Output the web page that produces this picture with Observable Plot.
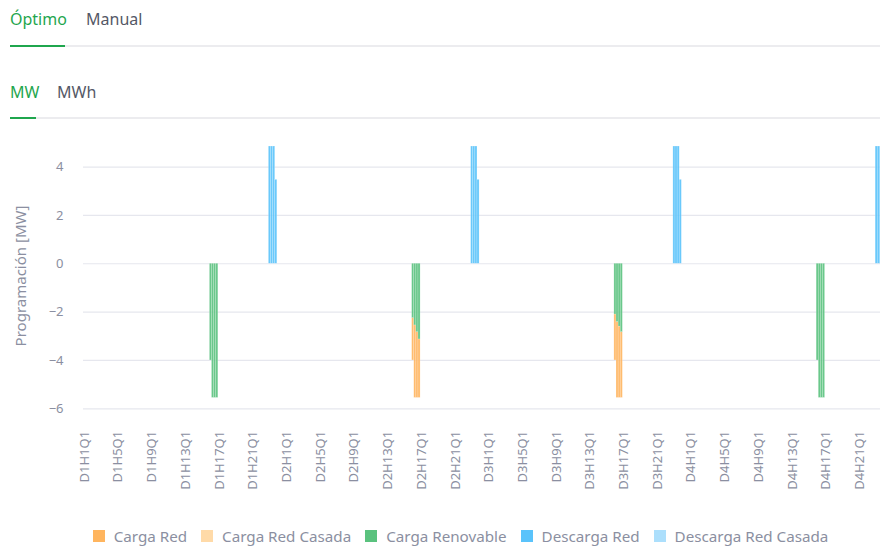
<!DOCTYPE html>
<html>
<head>
<meta charset="utf-8">
<script src="https://cdn.jsdelivr.net/npm/d3@7"></script>
<script src="https://cdn.jsdelivr.net/npm/@observablehq/plot@0.6"></script>
<style>
  html, body { margin: 0; padding: 0; background: #fff; }
  body { width: 880px; height: 548px; overflow: hidden; position: relative; font-family: "Noto Sans", sans-serif; }
  .tab { position: absolute; font-size: 16px; color: #545866; line-height: 20px; }
  .tab.active { color: #1fa64e; }
  .line { position: absolute; height: 2px; background: #ececef; left: 10px; width: 870px; }
  .uline { position: absolute; height: 2px; background: #1fa64e; }
  #chart { position: absolute; left: 0; top: 130px; width: 900px; }
  #chart svg { max-width: none !important; }
  #ylabel { position: absolute; left: 20px; top: 276px; transform: translate(-50%, -50%) rotate(-90deg); font-size: 15px; color: #8b8fa1; white-space: nowrap; }
  #legend { position: absolute; top: 526px; left: 0; width: 921px; display: flex; justify-content: center; font-size: 15.2px; color: #8b8fa1; }
  .item { display: flex; align-items: center; margin: 0 7px; line-height: 20px; }
  .sw { width: 12px; height: 12px; margin-right: 9px; }
</style>
</head>
<body>
<div class="tab active" style="left:10px; top:9px;">Óptimo</div>
<div class="tab" style="left:86px; top:9px;">Manual</div>
<div class="line" style="top:45px;"></div>
<div class="uline" style="top:45px; left:10px; width:55px;"></div>
<div class="tab active" style="left:10px; top:82px;">MW</div>
<div class="tab" style="left:57px; top:82px;">MWh</div>
<div class="line" style="top:117px;"></div>
<div class="uline" style="top:117px; left:10px; width:26px;"></div>
<div id="ylabel">Programación [MW]</div>
<div id="chart"></div>
<div id="legend"></div>
<script>
// Categories: quarter-hour slots over 4 days
const days = [1, 2, 3, 4];
const hours = d3.range(1, 25);
const quarters = [1, 2, 3, 4];
const slots = [];
for (const d of days) for (const h of hours) for (const q of quarters) slots.push(`D${d}H${h}Q${q}`);
const tickLabels = slots.filter(s => /H(1|5|9|13|17|21)Q1$/.test(s));

const seriesNames = ["Carga Red", "Carga Red Casada", "Carga Renovable", "Descarga Red", "Descarga Red Casada"];
const seriesColors = ["#ffb55e", "#ffdaa8", "#5ac27e", "#5ac3fb", "#acdffc"];

// Carga Red
const cargaRedSlots = ["D2H16Q1", "D2H16Q2", "D2H16Q3", "D2H16Q4", "D3H16Q1", "D3H16Q2", "D3H16Q3", "D3H16Q4"];
const cargaRedValues = [-1.75, -3.0, -2.72, -2.42, -1.9, -3.14, -2.95, -2.72];
// Carga Red Casada
const cargaRedCasadaSlots = [];
const cargaRedCasadaValues = [];
// Carga Renovable
const cargaRenovableSlots = ["D1H16Q1", "D1H16Q2", "D1H16Q3", "D1H16Q4", "D2H16Q1", "D2H16Q2", "D2H16Q3", "D2H16Q4",
  "D3H16Q1", "D3H16Q2", "D3H16Q3", "D3H16Q4", "D4H16Q1", "D4H16Q2", "D4H16Q3", "D4H16Q4"];
const cargaRenovableValues = [-4.0, -5.55, -5.55, -5.55, -2.25, -2.55, -2.83, -3.13,
  -2.1, -2.41, -2.6, -2.83, -4.0, -5.55, -5.55, -5.55];
// Descarga Red
const descargaRedSlots = ["D1H23Q1", "D1H23Q2", "D1H23Q3", "D1H23Q4", "D2H23Q1", "D2H23Q2", "D2H23Q3", "D2H23Q4",
  "D3H23Q1", "D3H23Q2", "D3H23Q3", "D3H23Q4", "D4H23Q1", "D4H23Q2", "D4H23Q3", "D4H23Q4"];
const descargaRedValues = [4.85, 4.85, 4.85, 3.47, 4.85, 4.85, 4.85, 3.47,
  4.85, 4.85, 4.85, 3.47, 4.85, 4.85, 4.85, 3.47];
// Descarga Red Casada
const descargaRedCasadaSlots = [];
const descargaRedCasadaValues = [];

const yTicks = [-6, -4, -2, 0, 2, 4];

const groups = [
  [seriesNames[0], cargaRedSlots, cargaRedValues],
  [seriesNames[1], cargaRedCasadaSlots, cargaRedCasadaValues],
  [seriesNames[2], cargaRenovableSlots, cargaRenovableValues],
  [seriesNames[3], descargaRedSlots, descargaRedValues],
  [seriesNames[4], descargaRedCasadaSlots, descargaRedCasadaValues]
];
const data = groups.flatMap(([series, ss, vs]) => ss.map((slot, i) => ({series, slot, value: vs[i]})));

const chart = Plot.plot({
  width: 900,
  height: 380,
  marginLeft: 83,
  marginRight: 8,
  marginTop: 12.4,
  marginBottom: 101.7,
  style: {fontFamily: "Noto Sans, sans-serif", fontSize: "13px", color: "#8b8fa1", background: "transparent", maxWidth: "none"},
  x: {type: "band", domain: slots, padding: 0},
  y: {domain: [-6, 5]},
  color: {domain: seriesNames, range: seriesColors},
  marks: [
    Plot.gridY(yTicks, {stroke: "#e6e7ee", strokeOpacity: 1, strokeWidth: 1.2}),
    Plot.axisY(yTicks, {tickSize: 0, tickPadding: 20, label: null, fontSize: 13, fill: "#8b8fa1"}),
    Plot.axisX(tickLabels, {tickSize: 0, tickPadding: 22, tickRotate: -90, label: null, fontSize: 13, fill: "#8b8fa1"}),
    Plot.barY(data, {x: "slot", y: "value", fill: "series",
      order: ["Carga Renovable", "Carga Red", "Carga Red Casada", "Descarga Red", "Descarga Red Casada"],
      stroke: "white", strokeOpacity: 0.35, strokeWidth: 0.5, fillOpacity: 0.9})
  ]
});
chart.style.maxWidth = "none";
document.getElementById("chart").appendChild(chart);

const legend = document.getElementById("legend");
seriesNames.forEach((name, i) => {
  const item = document.createElement("div");
  item.className = "item";
  item.innerHTML = `<span class="sw" style="background:${seriesColors[i]}"></span><span>${name}</span>`;
  legend.appendChild(item);
});
</script>
</body>
</html>
